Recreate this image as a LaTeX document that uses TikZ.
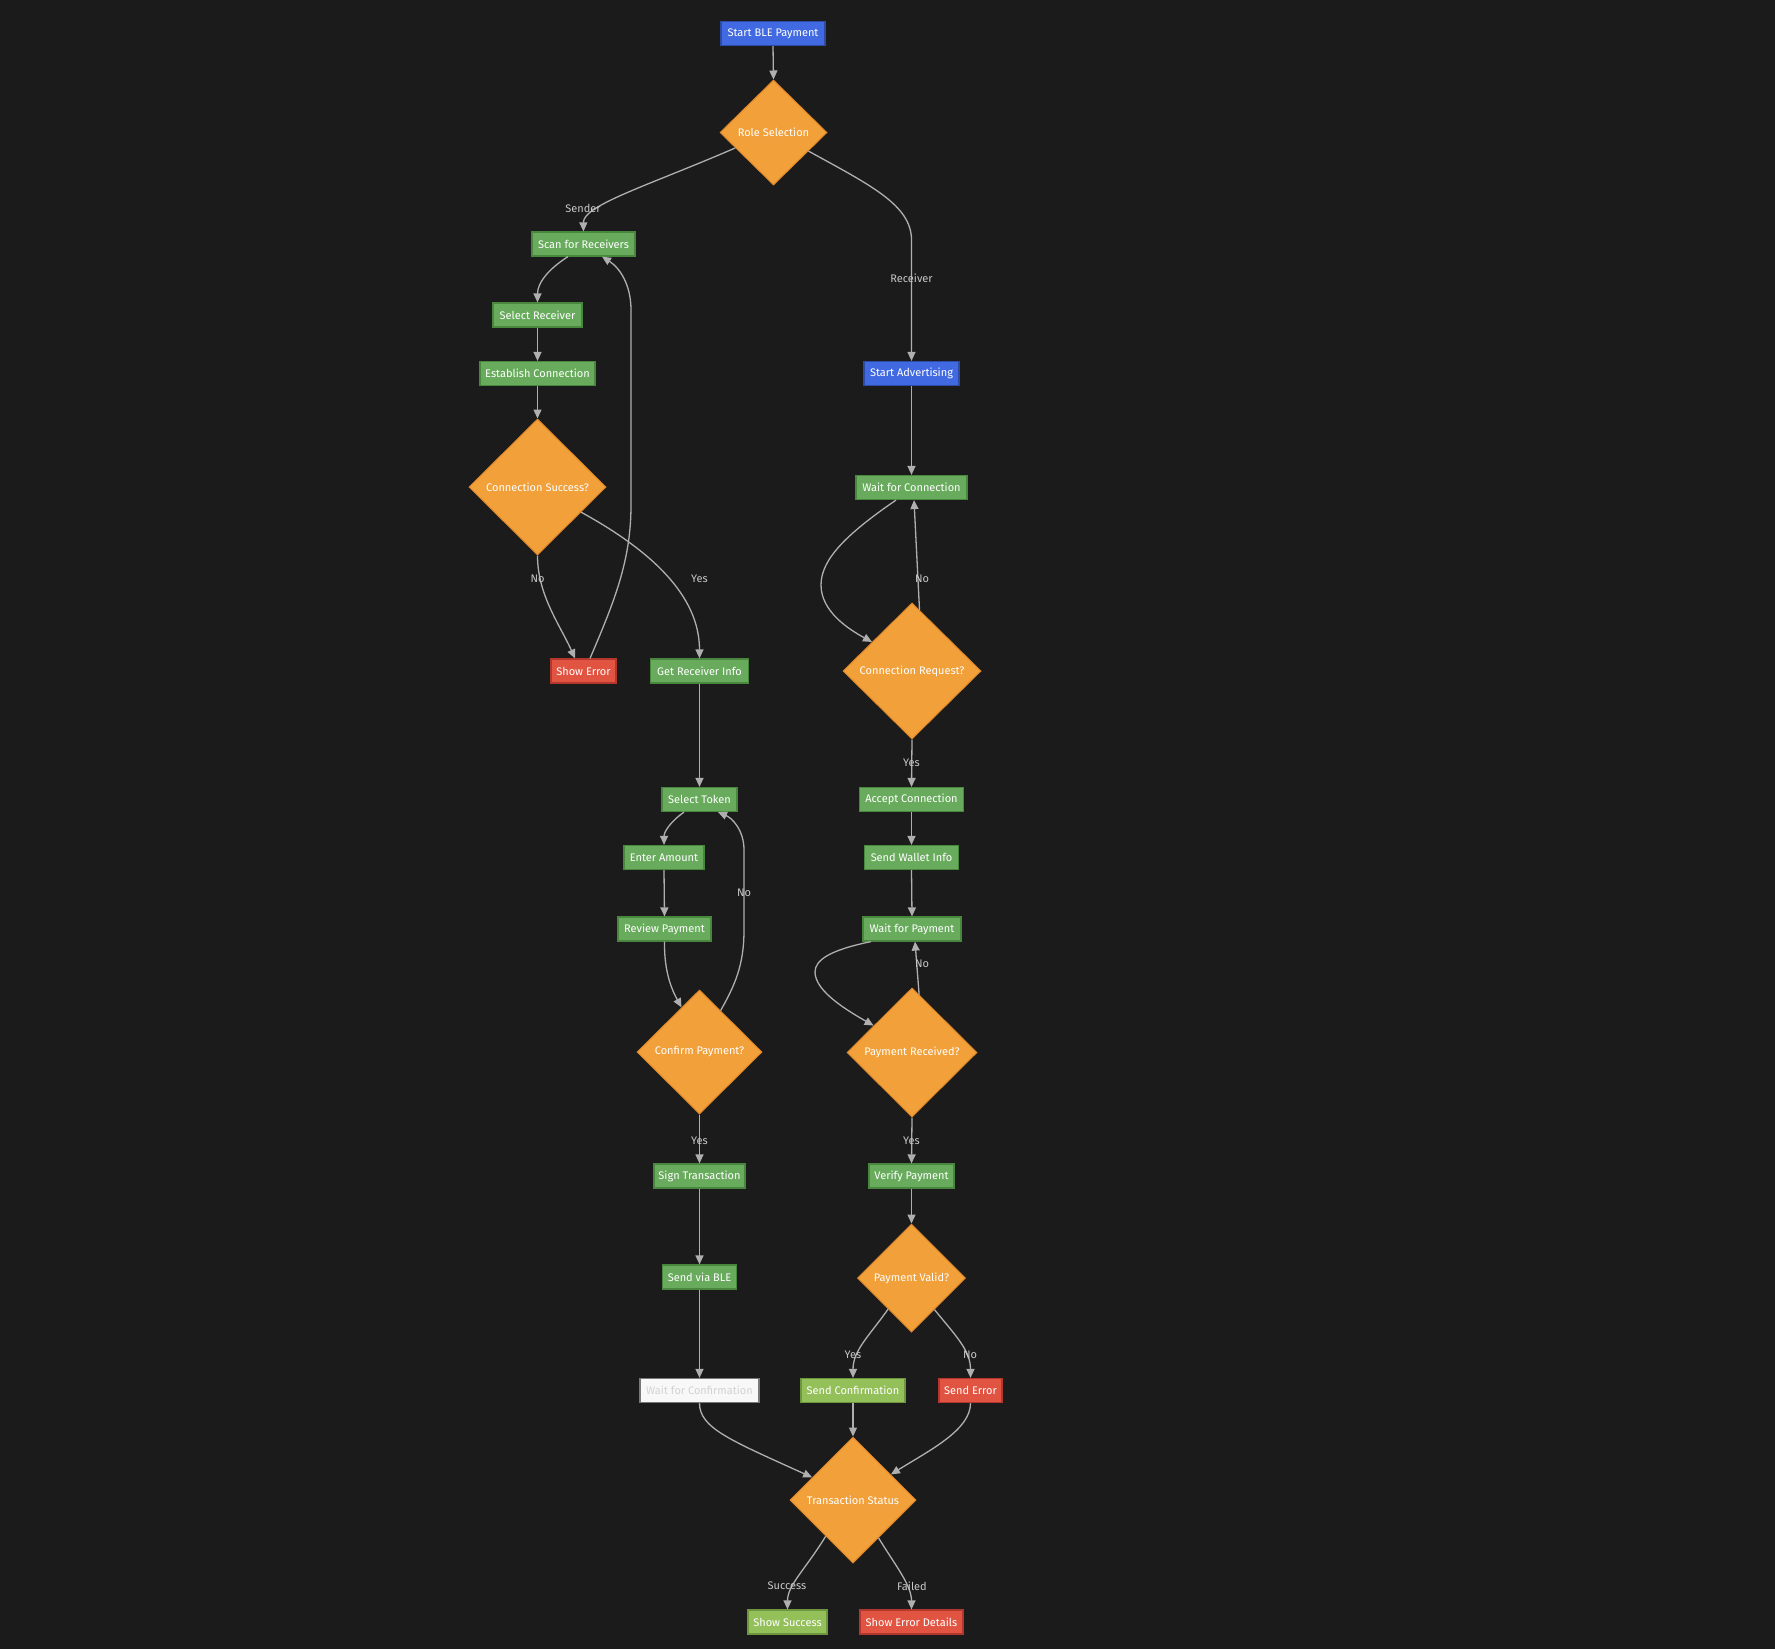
\documentclass[tikz,border=0pt]{standalone}
\usepackage{fontspec}
\setmainfont{Fira Sans}
\usetikzlibrary{shapes.geometric,arrows.meta,calc}
\definecolor{cbg}{RGB}{27,27,27}
\definecolor{cgreen}{RGB}{104,171,92}
\definecolor{cgreenD}{RGB}{74,135,62}
\definecolor{clgreen}{RGB}{148,192,90}
\definecolor{clgreenD}{RGB}{110,150,62}
\definecolor{cblue}{RGB}{65,105,225}
\definecolor{cblueD}{RGB}{45,75,165}
\definecolor{corange}{RGB}{241,160,58}
\definecolor{corangeD}{RGB}{222,135,40}
\definecolor{cred}{RGB}{226,84,66}
\definecolor{credD}{RGB}{180,55,45}
\definecolor{cwhite}{RGB}{248,248,248}
\definecolor{cwhiteD}{RGB}{120,120,120}
\definecolor{cwtext}{RGB}{210,210,210}
\definecolor{cline}{RGB}{175,175,175}
\definecolor{clabel}{RGB}{200,200,200}
\begin{document}
\begin{tikzpicture}[x=1pt,y=-1pt,
  every node/.style={font=\fontsize{11}{13}\selectfont},
  box/.style={rectangle,draw,line width=1.2pt,minimum height=24pt,inner sep=0pt,text=white},
  gbox/.style={box,fill=cgreen,draw=cgreenD},
  lgbox/.style={box,fill=clgreen,draw=clgreenD},
  bbox/.style={box,fill=cblue,draw=cblueD},
  rbox/.style={box,fill=cred,draw=credD},
  wbox/.style={box,fill=cwhite,draw=cwhiteD,text=cwtext},
  dia/.style={diamond,draw=corangeD,fill=corange,line width=1pt,inner sep=0pt,text=white},
  edge/.style={draw=cline,line width=1.3pt,-{Triangle[length=9pt,width=8pt]}},
  lab/.style={text=clabel,inner sep=1pt}
]
\fill[cbg] (0,0) rectangle (1775,1649);
\useasboundingbox (0,0) rectangle (1775,1649);

% nodes
\node[bbox,minimum width=104pt] (start) at (773,33.5) {Start BLE Payment};
\node[dia,minimum width=107pt,minimum height=105pt] (role) at (773.5,132.5) {Role Selection};
\node[gbox,minimum width=103pt] (scan) at (583.5,244) {Scan for Receivers};
\node[gbox,minimum width=89pt] (sel) at (537.5,315) {Select Receiver};
\node[gbox,minimum width=115pt] (est) at (537.5,373.5) {Establish Connection};
\node[dia,minimum width=137pt,minimum height=136pt] (cs) at (537.5,487) {Connection Success?};
\node[rbox,minimum width=65pt] (showerr) at (583.5,671) {Show Error};
\node[gbox,minimum width=98pt] (gri) at (699.5,671) {Get Receiver Info};
\node[gbox,minimum width=75pt] (token) at (699.5,799.5) {Select Token};
\node[gbox,minimum width=80pt] (enter) at (664,857.5) {Enter Amount};
\node[gbox,minimum width=93pt] (review) at (664.5,929) {Review Payment};
\node[dia,minimum width=125pt,minimum height=124pt] (confirm) at (699.5,1052) {Confirm Payment?};
\node[gbox,minimum width=91pt] (sign) at (699.5,1176) {Sign Transaction};
\node[gbox,minimum width=74pt] (ble) at (699.5,1277) {Send via BLE};
\node[wbox,minimum width=119pt] (waitconf) at (699.5,1390.5) {Wait for Confirmation};

\node[bbox,minimum width=95pt] (adv) at (911.5,373.5) {Start Advertising};
\node[gbox,minimum width=111pt] (waitconn) at (911.5,487.5) {Wait for Connection};
\node[dia,minimum width=138pt,minimum height=136pt] (connreq) at (912,671) {Connection Request?};
\node[gbox,minimum width=104pt] (accept) at (911.5,799.5) {Accept Connection};
\node[gbox,minimum width=94pt] (wallet) at (911.5,857.5) {Send Wallet Info};
\node[gbox,minimum width=98pt] (waitpay) at (912,929) {Wait for Payment};
\node[dia,minimum width=130pt,minimum height=129pt] (payrecv) at (912,1052.5) {Payment Received?};
\node[gbox,minimum width=85pt] (verify) at (911.5,1176) {Verify Payment};
\node[dia,minimum width=108pt,minimum height=108pt] (pv) at (911.5,1278) {Payment Valid?};
\node[lgbox,minimum width=104pt] (sendconf) at (853,1390.5) {Send Confirmation};
\node[rbox,minimum width=63pt] (senderr) at (970.5,1390.5) {Send Error};
\node[dia,minimum width=126pt,minimum height=126pt] (ts) at (853,1500) {Transaction Status};
\node[lgbox,minimum width=79pt] (succ) at (787.5,1622) {Show Success};
\node[rbox,minimum width=103pt] (sed) at (911.5,1622) {Show Error Details};

% edges
\draw[edge] (start.south) -- (role.north);
\draw[edge] (role.202.5) .. controls (650,185) and (583,205) .. (scan.north);
\draw[edge] (role.-28.3) .. controls (870,185) and (911.5,205) .. (911.5,240) -- (adv.north);
\draw[edge] ($(scan.south)+(-15.5,0)$) .. controls (550,268) and (537.5,282) .. (sel.north);
\draw[edge] (sel.south) -- (est.north);
\draw[edge] (est.south) -- (cs.north);
\draw[edge] (cs.south) .. controls (537.5,595) and (560,625) .. ($(showerr.north)+(-8.5,0)$);
\draw[edge] ($(showerr.north)+(6.5,0)$) .. controls (615,600) and (631,560) .. (631,505) -- (631,310) .. controls (631,285) and (620,268) .. ($(scan.south)+(18.5,0)$);
\draw[edge] (cs.-30.3) .. controls (650,550) and (699.5,595) .. (gri.north);
\draw[edge] (gri.south) -- (token.north);
\draw[edge] ($(token.south)+(-15.5,0)$) .. controls (670,822) and (664,832) .. (enter.north);
\draw[edge] (enter.south) -- (review.north);
\draw[edge] (review.south) .. controls (664,972) and (672,990) .. (confirm.112.4);
\draw[edge] (confirm.63) .. controls (735,985) and (744,965) .. (744,930) -- (744,850) .. controls (744,830) and (732,818) .. ($(token.south)+(18.5,0)$);
\draw[edge] (confirm.south) -- (sign.north);
\draw[edge] (sign.south) -- (ble.north);
\draw[edge] (ble.south) -- (waitconf.north);
\draw[edge] (waitconf.south) .. controls (699.5,1428) and (730,1440) .. (ts.151.8);

\draw[edge] (adv.south) -- (waitconn.north);
\draw[edge] ($(waitconn.south)+(-15.5,0)$) .. controls (845,535) and (821,560) .. (821,585) .. controls (821,612) and (850,630) .. (connreq.144);
\draw[edge] (connreq.83.5) -- ($(waitconn.south)+(2.5,0)$);
\draw[edge] (connreq.south) -- (accept.north);
\draw[edge] (accept.south) -- (wallet.north);
\draw[edge] (wallet.south) -- (waitpay.north);
\draw[edge] ($(waitpay.south)+(-41,0)$) .. controls (830,950) and (815,960) .. (815,972) .. controls (815,992) and (850,1012) .. (payrecv.145);
\draw[edge] (payrecv.83) -- ($(waitpay.south)+(3,0)$);
\draw[edge] (payrecv.south) -- (verify.north);
\draw[edge] (verify.south) -- (pv.north);
\draw[edge] (pv.233.4) .. controls (870,1335) and (853,1350) .. (sendconf.north);
\draw[edge] (pv.306.6) .. controls (955,1335) and (970.5,1350) .. (senderr.north);
\draw[edge] (sendconf.south) -- (ts.north);
\draw[edge] (senderr.south) .. controls (970.5,1430) and (930,1450) .. (ts.34);
\draw[edge] (ts.233.9) .. controls (805,1570) and (787.5,1585) .. (succ.north);
\draw[edge] (ts.304.4) .. controls (895,1565) and (911.5,1585) .. (sed.north);

% labels
\node[lab] (l1) at (583,208) {Sender};
\node[lab] (l2) at (911.5,278.5) {Receiver};
\node[lab] (l3) at (537.5,579) {No};
\node[lab] (l4) at (699.5,579) {Yes};
\node[lab] (l5) at (922,579) {No};
\node[lab] (l6) at (911.5,763) {Yes};
\node[lab] (l7) at (744,893) {No};
\node[lab] (l8) at (922,964) {No};
\node[lab] (l9) at (699.5,1141) {Yes};
\node[lab] (l10) at (911.5,1141) {Yes};
\node[lab] (l11) at (853,1355) {Yes};
\node[lab] (l12) at (970,1355) {No};
\node[lab] (l13) at (787,1586) {Success};
\node[lab] (l14) at (912,1586) {Failed};
\end{tikzpicture}
\end{document}
